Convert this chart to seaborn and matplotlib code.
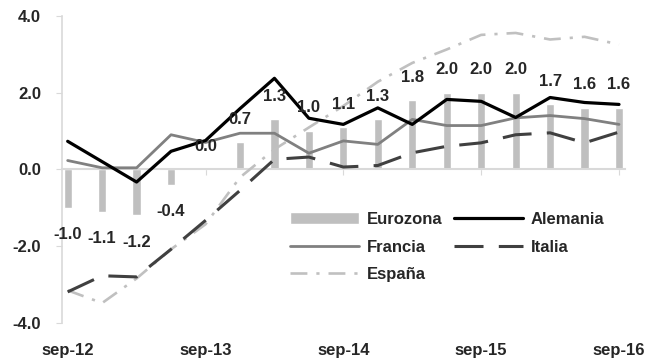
import numpy as np
import pandas as pd
import seaborn as sns
import matplotlib.pyplot as plt

# quarterly data, sep-12 .. sep-16
quarters = ["sep-12", "dic-12", "mar-13", "jun-13", "sep-13", "dic-13", "mar-14", "jun-14",
            "sep-14", "dic-14", "mar-15", "jun-15", "sep-15", "dic-15", "mar-16", "jun-16", "sep-16"]
eurozona = [-1.0, -1.1, -1.2, -0.4, 0.0, 0.7, 1.3, 1.0, 1.1, 1.3, 1.8, 2.0, 2.0, 2.0, 1.7, 1.6, 1.6]
alemania = [0.73, 0.2, -0.33, 0.47, 0.75, 1.58, 2.37, 1.33, 1.17, 1.6, 1.17, 1.82, 1.77, 1.35, 1.87, 1.74, 1.69]
francia = [0.23, 0.04, 0.04, 0.9, 0.7, 0.94, 0.94, 0.42, 0.74, 0.65, 1.3, 1.14, 1.14, 1.34, 1.4, 1.32, 1.17]
italia = [-3.19, -2.77, -2.8, -2.08, -1.33, -0.55, 0.26, 0.32, 0.06, 0.1, 0.43, 0.6, 0.69, 0.9, 0.95, 0.69, 0.97]
espana = [-3.15, -3.48, -2.84, -2.08, -1.43, -0.21, 0.52, 1.09, 1.65, 2.28, 2.77, 3.12, 3.5, 3.55, 3.38, 3.45, 3.25]
tick_labels = ["sep-12", "sep-13", "sep-14", "sep-15", "sep-16"]

pos = np.arange(len(quarters))
df = pd.DataFrame({"pos": pos, "Eurozona": eurozona, "Alemania": alemania,
                   "Francia": francia, "Italia": italia, "España": espana})

sns.set_style("white")
plt.rcParams["font.family"] = ["Liberation Sans", "DejaVu Sans"]
plt.rcParams["font.weight"] = "bold"

fig = plt.figure(figsize=(6.47, 3.62), dpi=100)
ax = fig.add_axes([0.0958, 0.1077, 0.870, 0.849])

sns.barplot(data=df, x="pos", y="Eurozona", native_scale=True, width=0.24,
            color="#bfbfbf", saturation=1, ax=ax, label="Eurozona", zorder=2)

styles = {
    "Alemania": dict(color="black", lw=2.3, ls="-"),
    "Francia": dict(color="#808080", lw=2.0, ls="-"),
    "Italia": dict(color="#404040", lw=2.2, ls=(0, (9.5, 5))),
    "España": dict(color="#c0c0c0", lw=1.9, ls=(0, (6.4, 3.4, 1.2, 3.4))),
}
for name in ["España", "Italia", "Francia", "Alemania"]:
    st = styles[name]
    sns.lineplot(data=df, x="pos", y=name, ax=ax, color=st["color"], linewidth=st["lw"],
                 linestyle=st["ls"], label=name, zorder=3)

# data labels for Eurozona bars
for x, v in zip(pos, eurozona):
    off = 23 if v >= 0 else -27
    ax.annotate(f"{v:.1f}", (x, v), xytext=(0, off), textcoords="offset pixels",
                ha="center", va="center", fontsize=12, fontweight="bold", zorder=4)

ax.set_xlim(-0.165, 16.17)
ax.set_ylim(-4, 4)
ax.set_yticks([-4, -2, 0, 2, 4])
ax.set_yticklabels([f"{t:.1f}" for t in [-4, -2, 0, 2, 4]])
ax.set_xticks(pos[::4])
ax.set_xticklabels(tick_labels)
ax.set_xlabel("")
ax.set_ylabel("")

for s in ["top", "right"]:
    ax.spines[s].set_visible(False)
ax.spines["left"].set_color("#d9d9d9")
ax.spines["left"].set_linewidth(1.2)
ax.spines["bottom"].set_position(("data", 0))
ax.spines["bottom"].set_color("#d9d9d9")
ax.spines["bottom"].set_linewidth(1.5)
ax.tick_params(axis="y", left=True, length=4, color="#d9d9d9", pad=11, labelsize=12)
ax.tick_params(axis="x", bottom=True, length=4, color="#d9d9d9", pad=121, labelsize=12)
for t in ax.get_xticklabels() + ax.get_yticklabels():
    t.set_fontweight("bold")

h, l = ax.get_legend_handles_labels()
hd = dict(zip(l, h))
order = ["Eurozona", "Francia", "España", "Alemania", "Italia"]
ax.legend([hd[k] for k in order], order, ncol=2, frameon=False,
          loc="upper left", bbox_to_anchor=(0.379, 0.41), handlelength=4.1,
          handletextpad=0.5, columnspacing=0.7, labelspacing=0.75,
          prop={"weight": "bold", "size": 12})

fig.savefig("out.png", dpi=100)
